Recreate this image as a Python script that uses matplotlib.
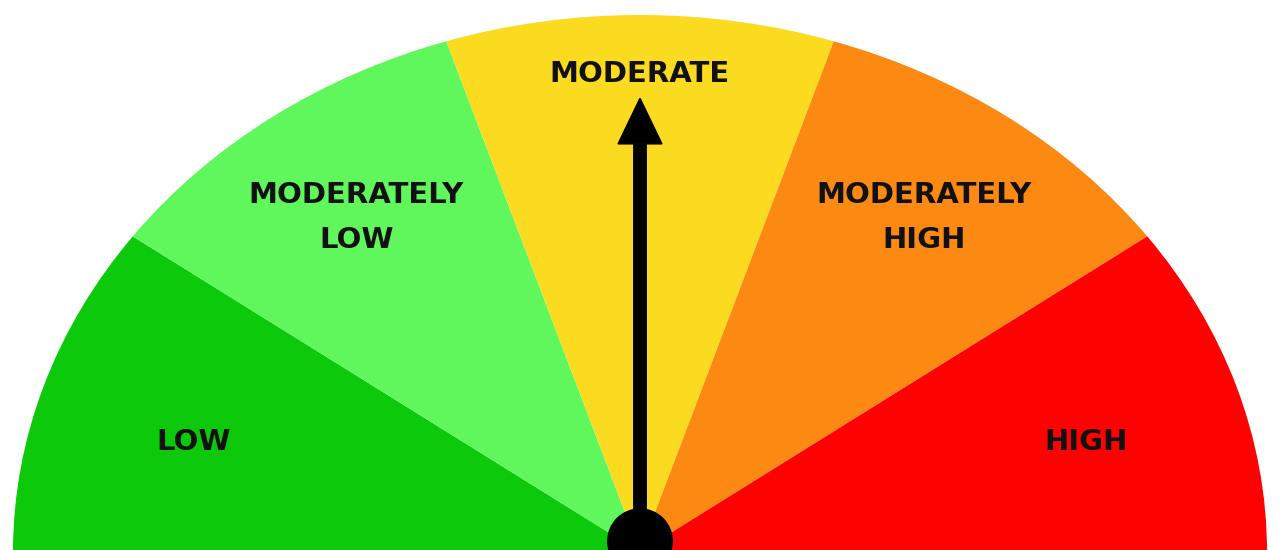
import numpy as np
import matplotlib
matplotlib.use("Agg")
import matplotlib.pyplot as plt
from matplotlib.patches import Wedge, Ellipse, Polygon

# gauge data
categories = ["LOW", "MODERATELY\nLOW", "MODERATE", "MODERATELY\nHIGH", "HIGH"]
segment_sizes = [1, 1, 1, 1, 1]
colors = ["#0cc90c", "#5ff75c", "#fbdb1f", "#fc8a12", "#fe0202"]
needle_value = 2.5  # in segment units, 0..5

# label placement: (radius, angle offset toward the horizon in degrees)
label_place = {"LOW": (0.74, 2), "HIGH": (0.74, 2), "MODERATE": (0.89, 0)}

fig = plt.figure(figsize=(12.8, 5.5), dpi=100)
# axes stretched so the half disc fills the picture like the reference
ax = fig.add_axes([13 / 1280, -2 / 550, 1254 / 1280, 537 / 550])
ax.set_xlim(-1, 1)
ax.set_ylim(0, 1.0)
ax.axis("off")

total = sum(segment_sizes)
edges = np.cumsum([0] + segment_sizes)
angles = 180 - 180 * edges / total  # degrees, left -> right

for i, (cat, col) in enumerate(zip(categories, colors)):
    a1, a0 = angles[i], angles[i + 1]
    ax.add_patch(Wedge((0, 0), 1.0, a0, a1, facecolor=col, edgecolor="none"))
    mid = (a0 + a1) / 2
    r, off = label_place.get(cat, (0.77, 0))
    if mid > 90:
        mid += off
    else:
        mid -= off
    mid = np.deg2rad(mid)
    ax.text(r * np.cos(mid), r * np.sin(mid), cat, ha="center", va="center",
            fontsize=21, fontweight="bold", color="#111111",
            linespacing=1.8, family="DejaVu Sans")

# needle
theta = np.deg2rad(180 - 180 * needle_value / total)
shaft_len = 0.76
tip_len = 0.845
ux, uy = np.cos(theta), np.sin(theta)
ax.plot([0, shaft_len * ux], [0, shaft_len * uy], color="black", lw=10,
        solid_capstyle="butt")
px, py = -uy, ux
hw = 0.035
head = Polygon([[tip_len * ux, tip_len * uy],
                [shaft_len * ux + hw * px, shaft_len * uy + hw * py * 1.18],
                [shaft_len * ux - hw * px, shaft_len * uy - hw * py * 1.18]],
               closed=True, facecolor="black", edgecolor="black")
ax.add_patch(head)
ax.add_patch(Ellipse((0, 0.02), 2 * 33 / 627, 2 * 33 / 537,
                     facecolor="black", edgecolor="none"))

fig.savefig("out.png", dpi=100)
